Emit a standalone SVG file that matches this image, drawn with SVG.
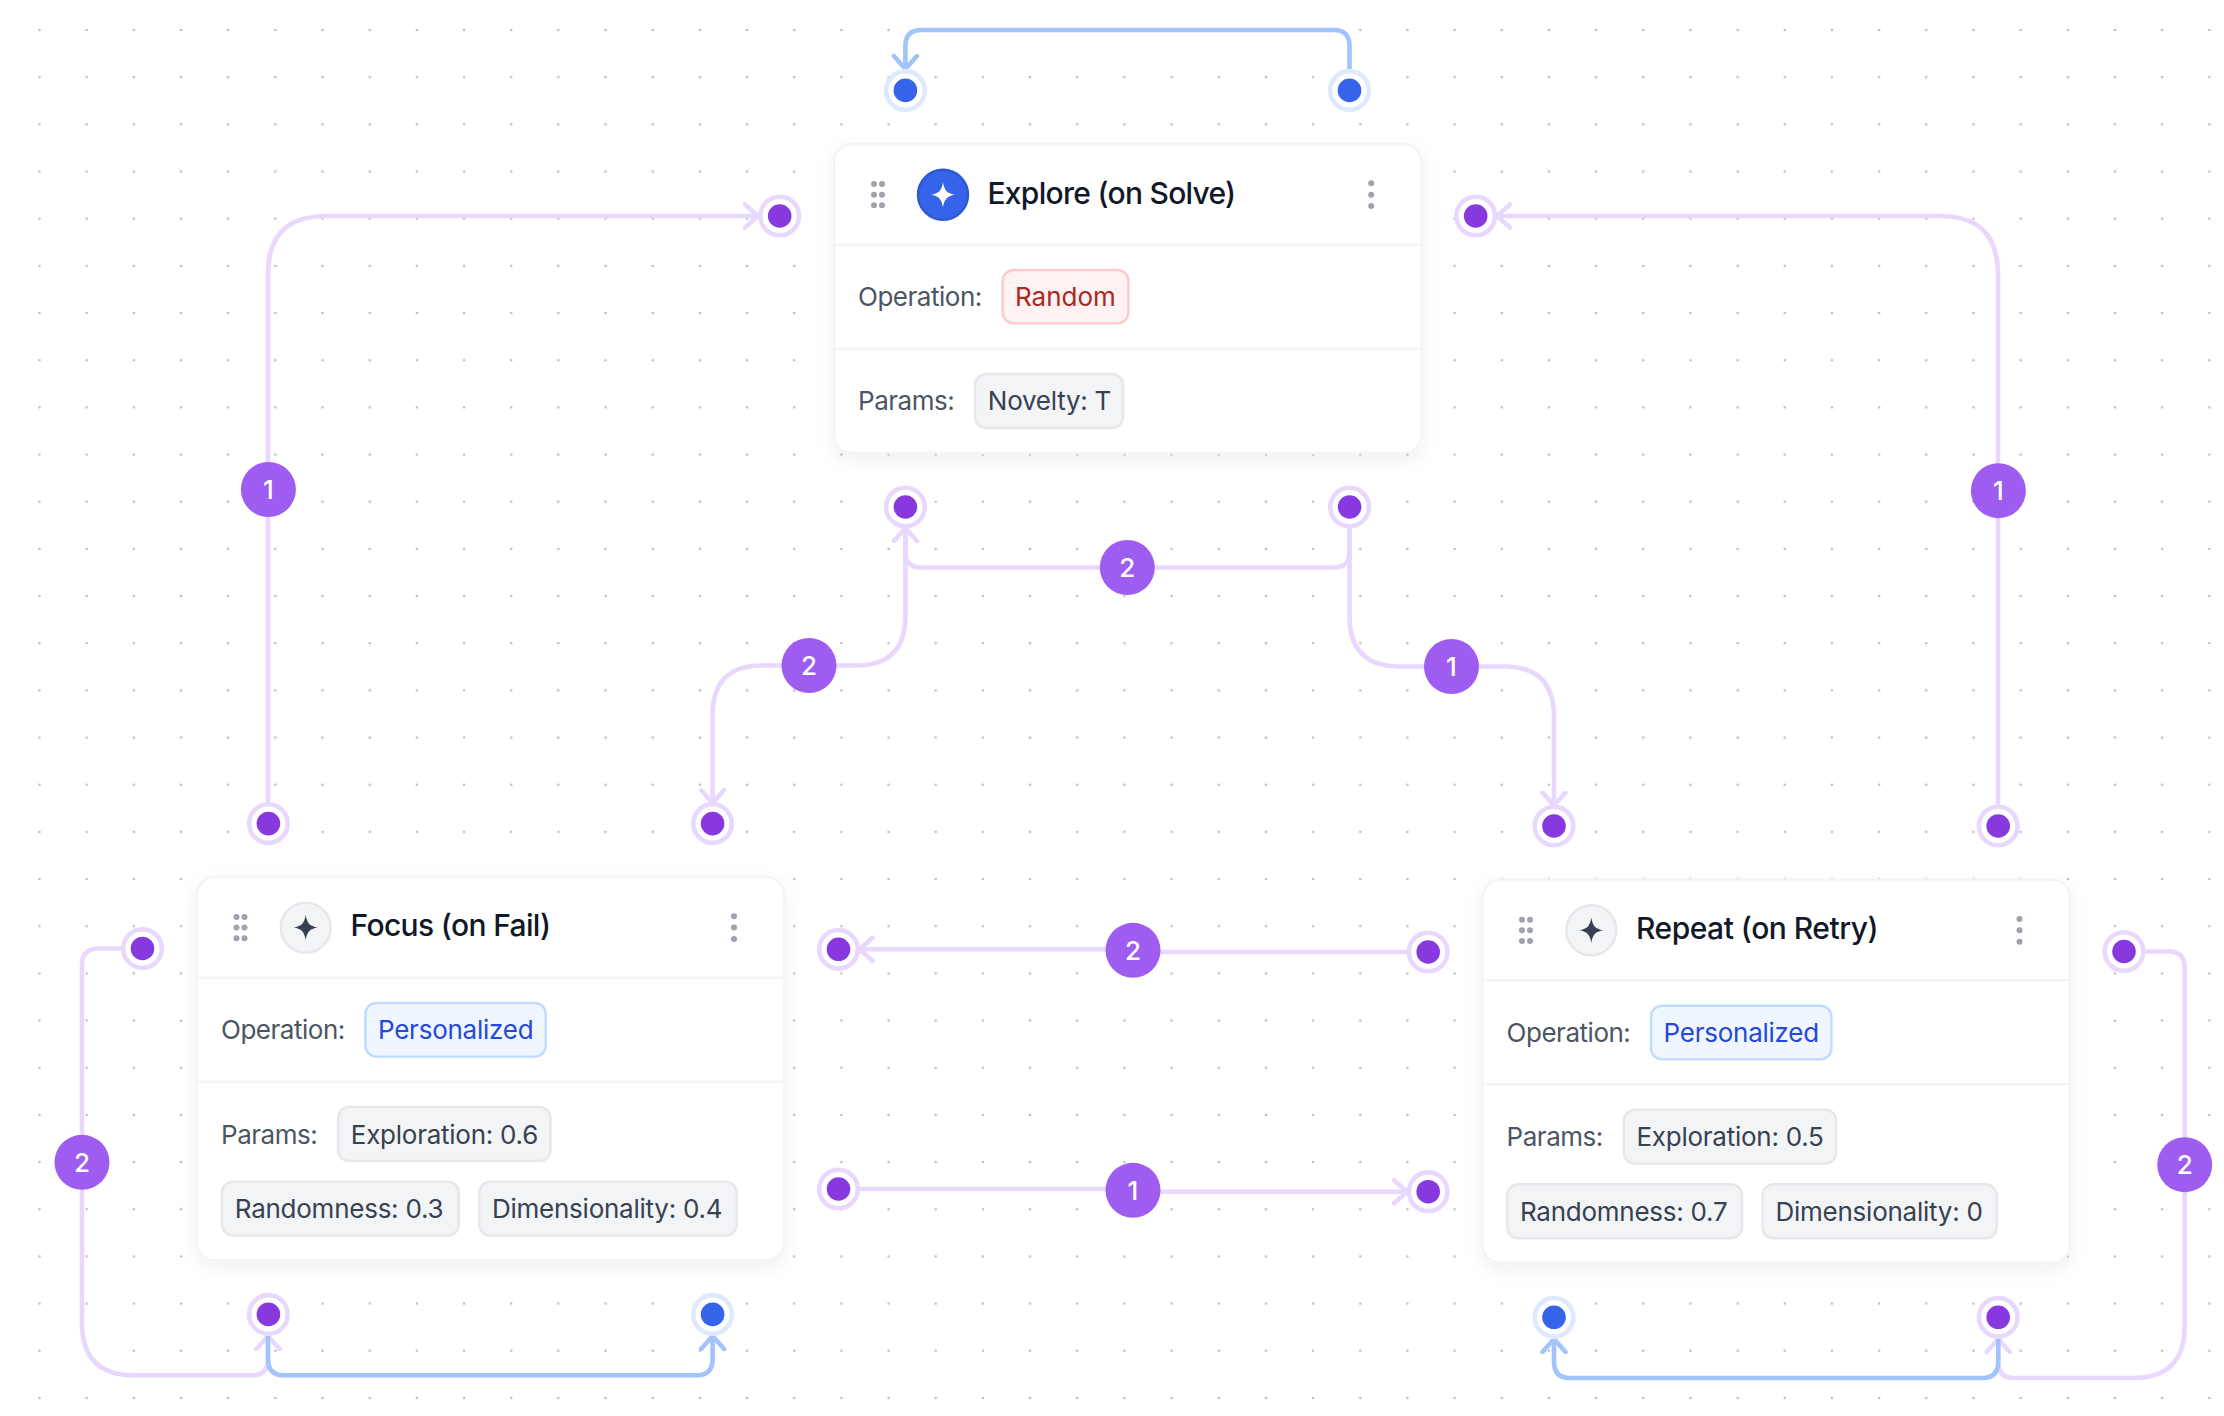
<svg xmlns="http://www.w3.org/2000/svg" width="2224" height="1416" viewBox="0 0 2224 1416">
<style>
text{font-family:Inter,"Liberation Sans",sans-serif}
.card{fill:#fff;stroke:#f3f4f6;stroke-width:2.4}
.div{stroke:#f3f4f6;stroke-width:2.4}
.grip,.keb{fill:#9ca3af}
.title{font-size:30px;font-weight:500;fill:#111827;letter-spacing:-.65px}
.lab{font-size:26px;fill:#4b5563;letter-spacing:-.48px}
.ct{font-size:26px;fill:#374151;letter-spacing:-.25px}
.chip{fill:#f3f4f6;stroke:#e5e7eb;stroke-width:2.4}
.blue{fill:#eff6ff;stroke:#bfdbfe;stroke-width:2.4}
.btx{font-size:26px;fill:#2449d8;letter-spacing:-.25px}
.red{fill:#fef2f2;stroke:#fecaca;stroke-width:2.4}
.rtx{font-size:26px;fill:#ab2820}
.ico{fill:#f3f4f6;stroke:#e5e7eb;stroke-width:2.4}
.icoa{fill:#3563e9;stroke:#2f57d0;stroke-width:2.4}
.edge{fill:none;stroke-width:4.6;stroke-linecap:round}
.lv{stroke:#e9d8fd;marker-end:url(#al)}
.bl{stroke:#a0c4fb;marker-end:url(#ab)}
.bdg{fill:#9f5cf1}
.bt{font-size:26px;font-weight:500;fill:#fff;text-anchor:middle}
.pr{fill:#fff;stroke:#e9d8fd;stroke-width:4.6}
.pd{fill:#8839dd}
.br{fill:#fff;stroke:#dfe9fe;stroke-width:4.6}
.bd{fill:#3563e9}
</style>
<defs>
<pattern id="grid" x="39.500" y="30" width="47.170" height="47.170" patternUnits="userSpaceOnUse"><circle cx="0" cy="0" r="1.300" fill="#bdbdbd"/><circle cx="47.170" cy="0" r="1.300" fill="#bdbdbd"/><circle cx="0" cy="47.170" r="1.300" fill="#bdbdbd"/><circle cx="47.170" cy="47.170" r="1.300" fill="#bdbdbd"/></pattern>
<marker id="al" markerUnits="userSpaceOnUse" viewBox="0 0 30 30" markerWidth="30" markerHeight="30" refX="15" refY="15" orient="auto"><path d="M2 3.500L15 15L2 26.500" fill="none" stroke="#e9d8fd" stroke-width="4.600" stroke-linecap="round" stroke-linejoin="round"/></marker>
<marker id="ab" markerUnits="userSpaceOnUse" viewBox="0 0 30 30" markerWidth="30" markerHeight="30" refX="15" refY="15" orient="auto"><path d="M2 3.500L15 15L2 26.500" fill="none" stroke="#a0c4fb" stroke-width="4.600" stroke-linecap="round" stroke-linejoin="round"/></marker>
<filter id="sh" x="-10%" y="-10%" width="120%" height="125%"><feDropShadow dx="0" dy="6" stdDeviation="9" flood-color="#000" flood-opacity="0.06"/></filter>
<path id="star" d="M0-12.500C1.500-4 4-1.500 12 0C4 1.500 1.500 4 0 12.500C-1.500 4-4 1.500-12 0C-4-1.500-1.500-4 0-12.500Z"/>
</defs>
<rect width="2224" height="1416" fill="#fff"/>
<rect id="dots" width="2224" height="1416" x="0" y="0" fill="url(#grid)"/>
<g id="connectors">
<path class="edge bl" d="M1349.500 70V46Q1349.500 30 1333.500 30H921.400Q905.400 30 905.400 46V69"/>
<path class="edge lv" d="M268 803V274Q268 216 326 216H758"/>
<path class="edge lv" d="M1998 805V274Q1998 216 1940 216H1497"/>
<path class="edge lv" d="M1349.600 528V552Q1349.600 567.500 1333.600 567.500H921.400Q905.400 567.500 905.400 552V528"/>
<path class="edge lv" d="M905.400 528V616Q905.400 665.500 856 665.500H762Q712.600 665.500 712.600 715V803"/>
<path class="edge lv" d="M1349.600 528V617Q1349.600 666.500 1400 666.500H1504Q1554 666.500 1554 717V805.500"/>
<path class="edge lv" d="M1407 952H1133V949.300H859.500"/>
<path class="edge lv" d="M859.500 1189H1133V1191.700H1407"/>
<path class="edge lv" d="M121 948.500H98Q82 948.500 82 965V1323Q82 1375.300 134 1375.300H252Q268 1375.300 268 1359V1336"/>
<path class="edge bl" d="M268 1336V1359Q268 1375.300 284 1375.300H696.600Q712.600 1375.300 712.600 1359V1336"/>
<path class="edge lv" d="M2145 951.500H2169Q2184.700 951.500 2184.700 968V1326Q2184.700 1378 2132.700 1378H2014Q1998.200 1378 1998.200 1362V1339"/>
<path class="edge bl" d="M1998.200 1339V1362Q1998.200 1378 1982.200 1378H1570Q1554 1378 1554 1362V1339"/>
<g id="b1"><circle class="bdg" cx="268.400" cy="489.500" r="27.500"/><text class="bt" x="268.400" y="498.800">1</text></g>
<g id="b2"><circle class="bdg" cx="1998.400" cy="490.700" r="27.500"/><text class="bt" x="1998.400" y="500">1</text></g>
<g id="b3"><circle class="bdg" cx="1127.300" cy="567.500" r="27.500"/><text class="bt" x="1127.300" y="576.800">2</text></g>
<g id="b4"><circle class="bdg" cx="809" cy="665.500" r="27.500"/><text class="bt" x="809" y="674.800">2</text></g>
<g id="b5"><circle class="bdg" cx="1451.500" cy="666.500" r="27.500"/><text class="bt" x="1451.500" y="675.800">1</text></g>
<g id="b6"><circle class="bdg" cx="1133" cy="950.300" r="27.500"/><text class="bt" x="1133" y="959.600">2</text></g>
<g id="b7"><circle class="bdg" cx="1133" cy="1190.300" r="27.500"/><text class="bt" x="1133" y="1199.600">1</text></g>
<g id="b8"><circle class="bdg" cx="82" cy="1162.300" r="27.500"/><text class="bt" x="82" y="1171.600">2</text></g>
<g id="b9"><circle class="bdg" cx="2184.700" cy="1164.700" r="27.500"/><text class="bt" x="2184.700" y="1174">2</text></g>
</g>
<g id="ports">
<g id="p-e-t1"><circle class="br" cx="905.400" cy="90.400" r="19.300"/><circle class="bd" cx="905.400" cy="90.400" r="11.800"/></g>
<g id="p-e-t2"><circle class="br" cx="1349.500" cy="90.400" r="19.300"/><circle class="bd" cx="1349.500" cy="90.400" r="11.800"/></g>
<g id="p-e-l"><circle class="pr" cx="779.700" cy="216" r="19.300"/><circle class="pd" cx="779.700" cy="216" r="11.800"/></g>
<g id="p-e-r"><circle class="pr" cx="1475.700" cy="216" r="19.300"/><circle class="pd" cx="1475.700" cy="216" r="11.800"/></g>
<g id="p-e-b1"><circle class="pr" cx="905.400" cy="507" r="19.300"/><circle class="pd" cx="905.400" cy="507" r="11.800"/></g>
<g id="p-e-b2"><circle class="pr" cx="1349.600" cy="507" r="19.300"/><circle class="pd" cx="1349.600" cy="507" r="11.800"/></g>
<g id="p-f-t1"><circle class="pr" cx="268.400" cy="823.600" r="19.300"/><circle class="pd" cx="268.400" cy="823.600" r="11.800"/></g>
<g id="p-f-t2"><circle class="pr" cx="712.600" cy="823.600" r="19.300"/><circle class="pd" cx="712.600" cy="823.600" r="11.800"/></g>
<g id="p-f-l"><circle class="pr" cx="142.500" cy="948.500" r="19.300"/><circle class="pd" cx="142.500" cy="948.500" r="11.800"/></g>
<g id="p-f-r1"><circle class="pr" cx="838.500" cy="949.300" r="19.300"/><circle class="pd" cx="838.500" cy="949.300" r="11.800"/></g>
<g id="p-f-r2"><circle class="pr" cx="838.500" cy="1189" r="19.300"/><circle class="pd" cx="838.500" cy="1189" r="11.800"/></g>
<g id="p-f-b1"><circle class="pr" cx="268.400" cy="1314.400" r="19.300"/><circle class="pd" cx="268.400" cy="1314.400" r="11.800"/></g>
<g id="p-f-b2"><circle class="br" cx="712.600" cy="1314.400" r="19.300"/><circle class="bd" cx="712.600" cy="1314.400" r="11.800"/></g>
<g id="p-r-t1"><circle class="pr" cx="1554" cy="826" r="19.300"/><circle class="pd" cx="1554" cy="826" r="11.800"/></g>
<g id="p-r-t2"><circle class="pr" cx="1998.200" cy="826" r="19.300"/><circle class="pd" cx="1998.200" cy="826" r="11.800"/></g>
<g id="p-r-l1"><circle class="pr" cx="1428.200" cy="952" r="19.300"/><circle class="pd" cx="1428.200" cy="952" r="11.800"/></g>
<g id="p-r-l2"><circle class="pr" cx="1428.200" cy="1191.700" r="19.300"/><circle class="pd" cx="1428.200" cy="1191.700" r="11.800"/></g>
<g id="p-r-r"><circle class="pr" cx="2124" cy="951.500" r="19.300"/><circle class="pd" cx="2124" cy="951.500" r="11.800"/></g>
<g id="p-r-b1"><circle class="br" cx="1554" cy="1317.300" r="19.300"/><circle class="bd" cx="1554" cy="1317.300" r="11.800"/></g>
<g id="p-r-b2"><circle class="pr" cx="1998.200" cy="1317.300" r="19.300"/><circle class="pd" cx="1998.200" cy="1317.300" r="11.800"/></g>
</g>
<g id="explore">
<rect class="card" x="834" y="144" width="587.600" height="309" rx="18" filter="url(#sh)"/>
<path class="div" d="M835 244.700H1421M835 348.700H1421"/>
<g class="grip"><circle cx="874" cy="184" r="3"/><circle cx="882" cy="184" r="3"/><circle cx="874" cy="194.700" r="3"/><circle cx="882" cy="194.700" r="3"/><circle cx="874" cy="205.300" r="3"/><circle cx="882" cy="205.300" r="3"/></g>
<circle class="icoa" cx="943" cy="194.700" r="25"/><use href="#star" x="943" y="194.700" fill="#fff"/>
<text class="title" style="letter-spacing:-.72px" x="987.500" y="203.600">Explore (on Solve)</text>
<g class="keb"><circle cx="1371.200" cy="183.300" r="3"/><circle cx="1371.200" cy="194.700" r="3"/><circle cx="1371.200" cy="206" r="3"/></g>
<text class="lab" x="858" y="306.300">Operation:</text>
<rect class="red" x="1002.700" y="270" width="125.700" height="53.400" rx="11"/><text class="rtx" x="1015" y="306.300">Random</text>
<text class="lab" x="858" y="410.300">Params:</text>
<rect class="chip" x="975" y="374" width="148" height="54" rx="11"/><text class="ct" x="987.800" y="410.300">Novelty: T</text>
</g>
<g id="focus" transform="translate(0,-.7)">
<rect class="card" x="196.800" y="877.600" width="587.600" height="383.400" rx="18" filter="url(#sh)"/>
<path class="div" d="M198 978.300H784M198 1082.300H784"/>
<g class="grip"><circle cx="236.500" cy="917.700" r="3"/><circle cx="244.500" cy="917.700" r="3"/><circle cx="236.500" cy="928.300" r="3"/><circle cx="244.500" cy="928.300" r="3"/><circle cx="236.500" cy="939" r="3"/><circle cx="244.500" cy="939" r="3"/></g>
<circle class="ico" cx="305.700" cy="928.300" r="25"/><use href="#star" x="305.700" y="928.300" fill="#374151"/>
<text class="title" x="350.500" y="936.700">Focus (on Fail)</text>
<g class="keb"><circle cx="734" cy="917" r="3"/><circle cx="734" cy="928.300" r="3"/><circle cx="734" cy="939.700" r="3"/></g>
<text class="lab" x="221" y="1040">Operation:</text>
<rect class="blue" x="365.400" y="1003.700" width="180.400" height="53.600" rx="11"/><text class="btx" x="378" y="1040">Personalized</text>
<text class="lab" x="221" y="1144.500">Params:</text>
<rect class="chip" x="338.200" y="1107.700" width="212.300" height="54" rx="11"/><text class="ct" x="350.800" y="1144.500">Exploration: 0.6</text>
<rect class="chip" x="222" y="1182.300" width="236.800" height="54" rx="11"/><text class="ct" x="234.800" y="1219">Randomness: 0.3</text>
<rect class="chip" x="479.300" y="1182.300" width="257.400" height="54" rx="11"/><text class="ct" x="492" y="1219">Dimensionality: 0.4</text>
</g>
<g id="repeat" transform="translate(0,-.7)">
<rect class="card" x="1482.400" y="880.300" width="587.600" height="383.400" rx="18" filter="url(#sh)"/>
<path class="div" d="M1484 981H2069M1484 1085H2069"/>
<g class="grip"><circle cx="1522" cy="920.400" r="3"/><circle cx="1530" cy="920.400" r="3"/><circle cx="1522" cy="931" r="3"/><circle cx="1530" cy="931" r="3"/><circle cx="1522" cy="941.700" r="3"/><circle cx="1530" cy="941.700" r="3"/></g>
<circle class="ico" cx="1591.300" cy="931" r="25"/><use href="#star" x="1591.300" y="931" fill="#374151"/>
<text class="title" style="letter-spacing:-.5px" x="1636" y="939.400">Repeat (on Retry)</text>
<g class="keb"><circle cx="2019.500" cy="919.700" r="3"/><circle cx="2019.500" cy="931" r="3"/><circle cx="2019.500" cy="942.400" r="3"/></g>
<text class="lab" x="1506.600" y="1042.700">Operation:</text>
<rect class="blue" x="1651" y="1006.400" width="180.400" height="53.600" rx="11"/><text class="btx" x="1663.600" y="1042.700">Personalized</text>
<text class="lab" x="1506.600" y="1147.200">Params:</text>
<rect class="chip" x="1623.800" y="1110.400" width="212.300" height="54" rx="11"/><text class="ct" x="1636.400" y="1147.200">Exploration: 0.5</text>
<rect class="chip" x="1507.200" y="1185" width="234.800" height="54" rx="11"/><text class="ct" x="1520" y="1221.700">Randomness: 0.7</text>
<rect class="chip" x="1762.600" y="1185" width="234.100" height="54" rx="11"/><text class="ct" x="1775.500" y="1221.700">Dimensionality: 0</text>
</g>
</svg>
